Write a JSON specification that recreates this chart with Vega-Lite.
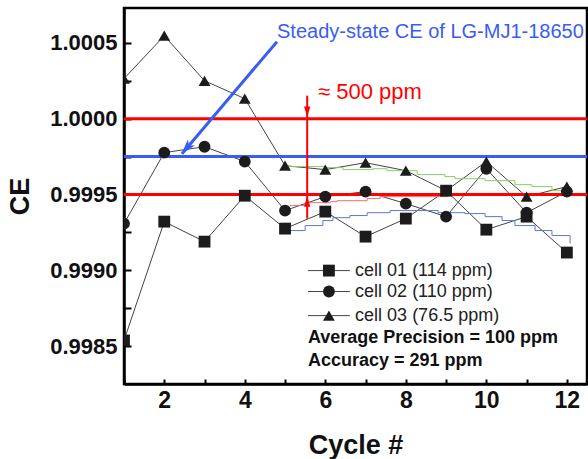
{
  "$schema": "https://vega.github.io/schema/vega-lite/v6.json",
  "width": 463,
  "height": 376,
  "autosize": "none",
  "padding": {"left": 124, "top": 8, "right": 1, "bottom": 75},
  "config": {
    "font": "Liberation Sans",
    "view": {"stroke": "black", "strokeWidth": 2.5},
    "axis": {"grid": false, "labelColor": "#111", "titleColor": "#111"}
  },
  "datasets": {
    "cells": [
      {"cell": "cell01", "cycle": 1, "ce": 0.998537},
      {"cell": "cell01", "cycle": 2, "ce": 0.999321},
      {"cell": "cell01", "cycle": 3, "ce": 0.999189},
      {"cell": "cell01", "cycle": 4, "ce": 0.999492},
      {"cell": "cell01", "cycle": 5, "ce": 0.999275},
      {"cell": "cell01", "cycle": 6, "ce": 0.999387},
      {"cell": "cell01", "cycle": 7, "ce": 0.999222},
      {"cell": "cell01", "cycle": 8, "ce": 0.999341},
      {"cell": "cell01", "cycle": 9, "ce": 0.999525},
      {"cell": "cell01", "cycle": 10, "ce": 0.999268},
      {"cell": "cell01", "cycle": 11, "ce": 0.999354},
      {"cell": "cell01", "cycle": 12, "ce": 0.999117},
      {"cell": "cell02", "cycle": 1, "ce": 0.999308},
      {"cell": "cell02", "cycle": 2, "ce": 0.999776},
      {"cell": "cell02", "cycle": 3, "ce": 0.999815},
      {"cell": "cell02", "cycle": 4, "ce": 0.999717},
      {"cell": "cell02", "cycle": 5, "ce": 0.999394},
      {"cell": "cell02", "cycle": 6, "ce": 0.999486},
      {"cell": "cell02", "cycle": 7, "ce": 0.999519},
      {"cell": "cell02", "cycle": 8, "ce": 0.99944},
      {"cell": "cell02", "cycle": 9, "ce": 0.999354},
      {"cell": "cell02", "cycle": 10, "ce": 0.99967},
      {"cell": "cell02", "cycle": 11, "ce": 0.99938},
      {"cell": "cell02", "cycle": 12, "ce": 0.999519},
      {"cell": "cell03", "cycle": 1, "ce": 1.000264},
      {"cell": "cell03", "cycle": 2, "ce": 1.000547},
      {"cell": "cell03", "cycle": 3, "ce": 1.00025},
      {"cell": "cell03", "cycle": 4, "ce": 1.000132},
      {"cell": "cell03", "cycle": 5, "ce": 0.99969},
      {"cell": "cell03", "cycle": 6, "ce": 0.999664},
      {"cell": "cell03", "cycle": 7, "ce": 0.99971},
      {"cell": "cell03", "cycle": 8, "ce": 0.999657},
      {"cell": "cell03", "cycle": 9, "ce": 0.999525},
      {"cell": "cell03", "cycle": 10, "ce": 0.999717},
      {"cell": "cell03", "cycle": 11, "ce": 0.999486},
      {"cell": "cell03", "cycle": 12, "ce": 0.999552}
    ],
    "avg": [
      {"s": "cell03 avg", "cycle": 5.05, "ce": 0.999684},
      {"s": "cell03 avg", "cycle": 5.99, "ce": 0.999677},
      {"s": "cell03 avg", "cycle": 6.44, "ce": 0.999664},
      {"s": "cell03 avg", "cycle": 7.18, "ce": 0.99967},
      {"s": "cell03 avg", "cycle": 7.53, "ce": 0.999657},
      {"s": "cell03 avg", "cycle": 8.28, "ce": 0.999631},
      {"s": "cell03 avg", "cycle": 8.97, "ce": 0.999618},
      {"s": "cell03 avg", "cycle": 9.22, "ce": 0.999604},
      {"s": "cell03 avg", "cycle": 9.97, "ce": 0.999591},
      {"s": "cell03 avg", "cycle": 10.71, "ce": 0.999565},
      {"s": "cell03 avg", "cycle": 11.13, "ce": 0.999552},
      {"s": "cell03 avg", "cycle": 11.63, "ce": 0.999525},
      {"s": "cell03 avg", "cycle": 12.08, "ce": 0.999512},
      {"s": "cell02 avg", "cycle": 5.12, "ce": 0.999427},
      {"s": "cell02 avg", "cycle": 5.5, "ce": 0.999446},
      {"s": "cell02 avg", "cycle": 6.12, "ce": 0.999453},
      {"s": "cell02 avg", "cycle": 6.29, "ce": 0.999459},
      {"s": "cell02 avg", "cycle": 7.04, "ce": 0.999473},
      {"s": "cell02 avg", "cycle": 7.36, "ce": 0.999486},
      {"s": "cell02 avg", "cycle": 9.05, "ce": 0.999492},
      {"s": "cell01 avg", "cycle": 5.12, "ce": 0.999262},
      {"s": "cell01 avg", "cycle": 5.5, "ce": 0.999295},
      {"s": "cell01 avg", "cycle": 5.94, "ce": 0.999328},
      {"s": "cell01 avg", "cycle": 6.19, "ce": 0.999347},
      {"s": "cell01 avg", "cycle": 6.61, "ce": 0.999361},
      {"s": "cell01 avg", "cycle": 7.04, "ce": 0.99938},
      {"s": "cell01 avg", "cycle": 7.61, "ce": 0.999394},
      {"s": "cell01 avg", "cycle": 8.8, "ce": 0.99938},
      {"s": "cell01 avg", "cycle": 9.47, "ce": 0.999374},
      {"s": "cell01 avg", "cycle": 9.97, "ce": 0.999354},
      {"s": "cell01 avg", "cycle": 10.39, "ce": 0.999328},
      {"s": "cell01 avg", "cycle": 10.71, "ce": 0.999295},
      {"s": "cell01 avg", "cycle": 11.21, "ce": 0.999262},
      {"s": "cell01 avg", "cycle": 11.63, "ce": 0.999229},
      {"s": "cell01 avg", "cycle": 12.08, "ce": 0.999176}
    ],
    "limits": [{"ce": 1.0}, {"ce": 0.9995}],
    "steady": [{"ce": 0.99975}],
    "bluearrow": [{"cycle": 4.8, "ce": 1.000508, "cycle2": 2.44, "ce2": 0.999769}],
    "bluehead": [{"cycle": 2.55, "ce": 0.999804}],
    "redarrow": [{"cycle": 5.55, "ce": 1.000152, "ce2": 0.999341}],
    "redheadtop": [{"cycle": 5.55, "ce": 1.000046}],
    "redheadbottom": [{"cycle": 5.55, "ce": 0.999453}],
    "bluenote": [{"cycle": 4.8, "ce": 1.000574, "text": "Steady-state CE of LG-MJ1-18650"}],
    "rednote": [{"cycle": 5.82, "ce": 1.000178, "text": "≈ 500 ppm"}],
    "legend": [
      {"cell": "cell01", "label": "cell 01 (114 ppm)", "ce": 0.998998, "xa": 5.57, "xb": 6.61, "xm": 6.09, "xt": 6.74},
      {"cell": "cell02", "label": "cell 02 (110 ppm)", "ce": 0.99886, "xa": 5.57, "xb": 6.61, "xm": 6.09, "xt": 6.74},
      {"cell": "cell03", "label": "cell 03 (76.5 ppm)", "ce": 0.998701, "xa": 5.57, "xb": 6.61, "xm": 6.09, "xt": 6.74}
    ],
    "stats": [
      {"text": "Average Precision = 100 ppm", "cycle": 5.57, "ce": 0.998556},
      {"text": "Accuracy = 291 ppm", "cycle": 5.57, "ce": 0.998405}
    ]
  },
  "layer": [
    {
      "data": {"name": "cells"},
      "mark": {"type": "line", "color": "#444", "strokeWidth": 1, "clip": true},
      "encoding": {
        "x": {"field": "cycle", "type": "quantitative", "scale": {"domain": [1, 12.5], "nice": false},
          "axis": {"orient": "bottom", "title": "Cycle #", "values": [1,2,3,4,5,6,7,8,9,10,11,12],
            "labelExpr": "datum.value % 2 == 0 ? datum.label : ''",
            "tickSize": -5, "tickColor": "black", "tickWidth": 2,
            "domainColor": "black", "domainWidth": 2.5,
            "labelFontSize": 23, "labelFontWeight": "bold", "labelPadding": 10,
            "titleFontSize": 27, "titleFontWeight": "bold", "titlePadding": 20}},
        "y": {"field": "ce", "type": "quantitative", "scale": {"domain": [0.99825, 1.00073], "nice": false, "zero": false},
          "axis": {"orient": "left", "title": "CE", "values": [0.9985,0.99875,0.999,0.99925,0.9995,0.99975,1.0,1.00025,1.0005],
            "labelExpr": "round(datum.value*4000) % 2 == 0 ? format(datum.value, '.4f') : ''",
            "tickSize": -7, "tickColor": "black", "tickWidth": 2,
            "domainColor": "black", "domainWidth": 2.5,
            "labelFontSize": 22, "labelFontWeight": "bold", "labelPadding": 14,
            "titleFontSize": 27, "titleFontWeight": "bold", "titlePadding": 15}},
        "detail": {"field": "cell"}
      }
    },
    {
      "data": {"name": "avg"},
      "mark": {"type": "line", "strokeWidth": 1, "clip": true, "interpolate": "step-after"},
      "encoding": {
        "x": {"field": "cycle", "type": "quantitative"},
        "y": {"field": "ce", "type": "quantitative"},
        "color": {"field": "s", "type": "nominal", "legend": null,
          "scale": {"domain": ["cell03 avg", "cell02 avg", "cell01 avg"], "range": ["#86cf62", "#ff6b6b", "#5b78d0"]}}
      }
    },
    {
      "data": {"name": "limits"},
      "mark": {"type": "rule", "color": "#ff0000", "strokeWidth": 3},
      "encoding": {"y": {"field": "ce", "type": "quantitative"}}
    },
    {
      "data": {"name": "steady"},
      "mark": {"type": "rule", "color": "#3a5cf5", "strokeWidth": 3},
      "encoding": {"y": {"field": "ce", "type": "quantitative"}}
    },
    {
      "data": {"name": "cells"},
      "mark": {"type": "point", "filled": true, "opacity": 1, "color": "#1c1c1c", "size": 140, "clip": true},
      "encoding": {
        "x": {"field": "cycle", "type": "quantitative"},
        "y": {"field": "ce", "type": "quantitative"},
        "shape": {"field": "cell", "type": "nominal", "legend": null,
          "scale": {"domain": ["cell01", "cell02", "cell03"], "range": ["square", "circle", "triangle-up"]}}
      }
    },
    {
      "data": {"name": "bluearrow"},
      "mark": {"type": "rule", "color": "#3a5cf5", "strokeWidth": 3},
      "encoding": {
        "x": {"field": "cycle", "type": "quantitative"},
        "y": {"field": "ce", "type": "quantitative"},
        "x2": {"field": "cycle2"},
        "y2": {"field": "ce2"}
      }
    },
    {
      "data": {"name": "bluehead"},
      "mark": {"type": "point", "filled": true, "opacity": 1, "color": "#3a5cf5", "size": 240, "angle": 220, "shape": "M0,-1L0.6,1L0,0.55L-0.6,1Z"},
      "encoding": {
        "x": {"field": "cycle", "type": "quantitative"},
        "y": {"field": "ce", "type": "quantitative"}
      }
    },
    {
      "data": {"name": "redarrow"},
      "mark": {"type": "rule", "color": "#ff0000", "strokeWidth": 2},
      "encoding": {
        "x": {"field": "cycle", "type": "quantitative"},
        "y": {"field": "ce", "type": "quantitative"},
        "y2": {"field": "ce2"}
      }
    },
    {
      "data": {"name": "redheadtop"},
      "mark": {"type": "point", "filled": true, "opacity": 1, "color": "#ff0000", "size": 110, "angle": 180, "shape": "M0,-1L0.6,1L-0.6,1Z"},
      "encoding": {
        "x": {"field": "cycle", "type": "quantitative"},
        "y": {"field": "ce", "type": "quantitative"}
      }
    },
    {
      "data": {"name": "redheadbottom"},
      "mark": {"type": "point", "filled": true, "opacity": 1, "color": "#ff0000", "size": 110, "shape": "M0,-1L0.6,1L-0.6,1Z"},
      "encoding": {
        "x": {"field": "cycle", "type": "quantitative"},
        "y": {"field": "ce", "type": "quantitative"}
      }
    },
    {
      "data": {"name": "bluenote"},
      "mark": {"type": "text", "align": "left", "baseline": "middle", "fontSize": 20, "color": "#3a5cf5"},
      "encoding": {
        "x": {"field": "cycle", "type": "quantitative"},
        "y": {"field": "ce", "type": "quantitative"},
        "text": {"field": "text"}
      }
    },
    {
      "data": {"name": "rednote"},
      "mark": {"type": "text", "align": "left", "baseline": "middle", "fontSize": 22, "color": "#ff0000"},
      "encoding": {
        "x": {"field": "cycle", "type": "quantitative"},
        "y": {"field": "ce", "type": "quantitative"},
        "text": {"field": "text"}
      }
    },
    {
      "data": {"name": "legend"},
      "mark": {"type": "rule", "color": "#444", "strokeWidth": 1},
      "encoding": {
        "x": {"field": "xa", "type": "quantitative"},
        "x2": {"field": "xb"},
        "y": {"field": "ce", "type": "quantitative"}
      }
    },
    {
      "data": {"name": "legend"},
      "mark": {"type": "point", "filled": true, "opacity": 1, "color": "#1c1c1c", "size": 140},
      "encoding": {
        "x": {"field": "xm", "type": "quantitative"},
        "y": {"field": "ce", "type": "quantitative"},
        "shape": {"field": "cell", "type": "nominal", "legend": null}
      }
    },
    {
      "data": {"name": "legend"},
      "mark": {"type": "text", "align": "left", "baseline": "middle", "fontSize": 18, "color": "#222"},
      "encoding": {
        "x": {"field": "xt", "type": "quantitative"},
        "y": {"field": "ce", "type": "quantitative"},
        "text": {"field": "label"}
      }
    },
    {
      "data": {"name": "stats"},
      "mark": {"type": "text", "align": "left", "baseline": "middle", "fontSize": 18, "fontWeight": "bold", "color": "#111"},
      "encoding": {
        "x": {"field": "cycle", "type": "quantitative"},
        "y": {"field": "ce", "type": "quantitative"},
        "text": {"field": "text"}
      }
    }
  ]
}
